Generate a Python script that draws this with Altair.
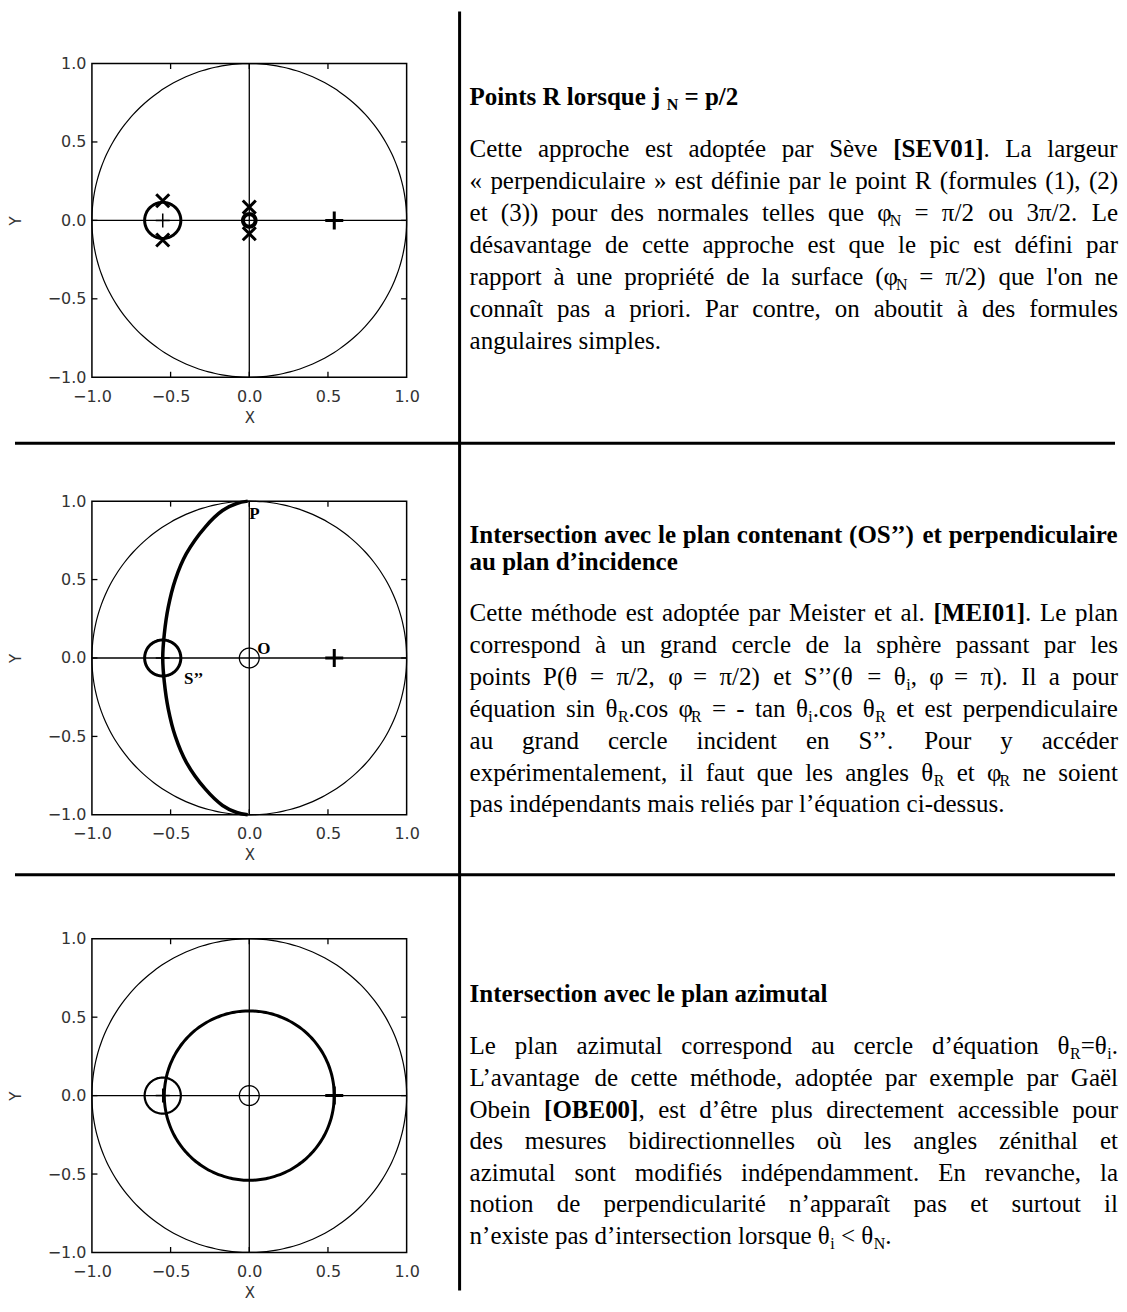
import math
import re
import pandas as pd
import altair as alt

# ---------------- data ----------------
TICK_VALUES = [-1.0, -0.5, 0.0, 0.5, 1.0]
INNER_TICKS = [-0.5, 0.0, 0.5]
TICK_LEN = 0.035

# circles per panel: centre x, centre y, radius, line width
P1_CX = [0.0, -0.55, 0.0]
P1_CY = [0.0, 0.0, 0.0]
P1_R = [1.0, 0.115, 0.04]
P1_W = [1.2, 3.0, 4.0]

P2_CX = [0.0, -0.55, 0.0]
P2_CY = [0.0, 0.0, 0.0]
P2_R = [1.0, 0.115, 0.063]
P2_W = [1.2, 3.0, 1.3]

P3_CX = [0.0, 0.0, -0.55, 0.0]
P3_CY = [0.0, 0.0, 0.0, 0.0]
P3_R = [1.0, 0.54, 0.115, 0.063]
P3_W = [1.2, 3.0, 2.2, 1.3]

# great-circle arc (panel 2)
ARC_X = [-0.01, -0.08, -0.17, -0.28, -0.40, -0.47, -0.515, -0.54, -0.55,
         -0.54, -0.515, -0.47, -0.40, -0.28, -0.17, -0.08, -0.01]
ARC_Y = [1.0, 0.985, 0.94, 0.835, 0.665, 0.5, 0.324, 0.153, 0.0,
         -0.153, -0.324, -0.5, -0.665, -0.835, -0.94, -0.985, -1.0]

# markers
THICK_PLUS_X = [0.54]
THICK_PLUS_Y = [0.0]
THIN_PLUS_X = [-0.55]
THIN_PLUS_Y = [0.0]
P1_XMARK_X = [-0.55, -0.55, 0.0, 0.0]
P1_XMARK_Y = [0.125, -0.125, 0.085, -0.085]

# point labels in panel 2
P2_LABELS = ["P", "O", "S’’"]
P2_LABEL_X = [0.0, 0.05, -0.415]
P2_LABEL_Y = [0.915, 0.06, -0.135]

# text blocks: (markup, justified, default style)
TEXT1 = [
    ("Points R lorsque j {S:N} = p/2", False, "b"),
    ("Cette approche est adoptée par Sève  {b:[SEV01]}. La largeur", True, "n"),
    ("« perpendiculaire » est définie par le point R (formules (1), (2)", True, "n"),
    ("et (3)) pour des normales telles que  φ{s:N} = π/2  ou  3π/2. Le", True, "n"),
    ("désavantage de cette approche est que le pic est défini par", True, "n"),
    ("rapport à une propriété de la surface (φ{s:N} = π/2) que l'on ne", True, "n"),
    ("connaît pas a priori. Par contre, on aboutit à des formules", True, "n"),
    ("angulaires simples.", False, "n"),
]
BASE1 = [42, 94, 126, 158, 190, 222, 254, 286]

TEXT2 = [
    ("Intersection avec le plan contenant (OS’’) et perpendiculaire", True, "b"),
    ("au plan d’incidence", False, "b"),
    ("Cette méthode est adoptée par Meister et al. {b:[MEI01]}. Le plan", True, "n"),
    ("correspond à un grand cercle de la sphère passant par les", True, "n"),
    ("points P(θ = π/2, φ = π/2) et S’’(θ = θ{s:i}, φ = π). Il a pour", True, "n"),
    ("équation sin θ{s:R}.cos φ{s:R} = - tan θ{s:i}.cos θ{s:R} et est perpendiculaire", True, "n"),
    ("au grand cercle incident en S’’. Pour y accéder", True, "n"),
    ("expérimentalement, il faut que les angles θ{s:R} et φ{s:R} ne soient", True, "n"),
    ("pas indépendants mais reliés par l’équation ci-dessus.", False, "n"),
]
BASE2 = [42, 69, 120, 152, 184, 216, 248, 280, 311]

TEXT3 = [
    ("Intersection avec le plan azimutal", False, "b"),
    ("Le plan azimutal correspond au cercle d’équation  θ{s:R}=θ{s:i}.", True, "n"),
    ("L’avantage de cette méthode, adoptée par exemple par Gaël", True, "n"),
    ("Obein {b:[OBE00]}, est d’être plus directement accessible pour", True, "n"),
    ("des mesures bidirectionnelles où les angles zénithal et", True, "n"),
    ("azimutal sont modifiés indépendamment. En revanche, la", True, "n"),
    ("notion de perpendicularité n’apparaît pas et surtout il", True, "n"),
    ("n’existe pas d’intersection lorsque θ{s:i} < θ{s:N}.", False, "n"),
]
BASE3 = [63, 115, 147, 179, 210, 242, 274, 306]

# ---------------- layout constants ----------------
W, H = 315, 314
TEXT_X0, TEXT_W = 378, 649
FS, SUB_FS = 25, 16
SERIF = "Liberation Serif"
SANS = "DejaVu Sans"

# Times / Liberation Serif advance widths (1/1000 em)
REG, BOLD = {}, {}
def _set(t, chars, w):
    for c in chars:
        t[c] = w
_set(REG, " ,.", 250); _set(REG, "ijlt:;/îï", 278); _set(REG, "fr()[]-’I", 333)
_set(REG, "sJ", 389); _set(REG, "aceézèêàâëç", 444)
_set(REG, "bdghknopquvxyôùû0123456789«»θφ", 500); _set(REG, "FPS", 556)
_set(REG, "=<", 564); _set(REG, "ELTZ", 611); _set(REG, "BCR", 667)
_set(REG, "ADGHKNOQUVXYw", 722); _set(REG, "m", 778); _set(REG, "M", 889)
_set(REG, "W", 944); REG["π"] = 550; REG["'"] = 180
_set(BOLD, " ,.", 250); _set(BOLD, "il:", 278); _set(BOLD, "fjt()[]-’", 333)
_set(BOLD, "sI", 389); _set(BOLD, "cerzé", 444); _set(BOLD, "agvxyJ0123456789", 500)
_set(BOLD, "bdhknpquS", 556); _set(BOLD, "=", 570); _set(BOLD, "FP", 611)
_set(BOLD, "BELTZ", 667); _set(BOLD, "ACDNRUVXYw", 722); _set(BOLD, "GHKOQ", 778)
_set(BOLD, "m", 833); _set(BOLD, "M", 944); _set(BOLD, "W", 1000)

TOK = re.compile(r"\{([bsS]):([^}]*)\}")

def parse(markup, default):
    segs, pos = [], 0
    for m in TOK.finditer(markup):
        if m.start() > pos:
            segs.append((markup[pos:m.start()], default))
        segs.append((m.group(2), m.group(1)))
        pos = m.end()
    if pos < len(markup):
        segs.append((markup[pos:], default))
    return segs

def seg_width(text, st):
    table = BOLD if st in ("b", "S") else REG
    size = SUB_FS if st in ("s", "S") else FS
    return sum(table.get(c, 500) for c in text) * size / 1000.0

def split_words(segs):
    words, cur = [], []
    for text, st in segs:
        parts = text.split(" ")
        for i, p in enumerate(parts):
            if i > 0 and cur:
                words.append(cur)
                cur = []
            if p:
                cur.append((p, st))
    if cur:
        words.append(cur)
    return words

def layout(lines, bases):
    rows = []
    for (markup, justify, default), yb in zip(lines, bases):
        words = split_words(parse(markup, default))
        widths = [sum(seg_width(t, s) for t, s in w) for w in words]
        if justify and len(words) > 1:
            gap = (TEXT_W - sum(widths)) / (len(words) - 1)
        else:
            gap = 0.25 * FS
        x = TEXT_X0
        for w, ww in zip(words, widths):
            xs = x
            for t, s in w:
                rows.append(dict(px=xs, py=yb, text=t, style=s))
                xs += seg_width(t, s)
            x += ww + gap
    return pd.DataFrame(rows)

# ---------------- chart pieces ----------------
SX = alt.Scale(domain=[-1, 1], nice=False, zero=False)
SY = alt.Scale(domain=[-1, 1], nice=False, zero=False)
AX = alt.Axis(values=TICK_VALUES, format=".1f", grid=False, ticks=False, tickSize=0,
              domain=False, labelFont=SANS, labelFontSize=16, labelColor="#333",
              labelPadding=11, labelFlush=False, title="X", titleFont=SANS,
              titleFontSize=15, titleFontWeight="normal", titleColor="#333",
              titleX=157.5, titleY=40, titleAlign="center", titleBaseline="middle")
AY = alt.Axis(values=TICK_VALUES, format=".1f", grid=False, ticks=False, tickSize=0,
              domain=False, labelFont=SANS, labelFontSize=16, labelColor="#333",
              labelPadding=6, labelFlush=False, title="Y", titleFont=SANS,
              titleFontSize=15, titleFontWeight="normal", titleColor="#333",
              titleX=-76, titleY=157, titleAngle=270, titleAlign="center",
              titleBaseline="middle")

def X(field="x"):
    return alt.X(f"{field}:Q", scale=SX, axis=AX)

def Y(field="y"):
    return alt.Y(f"{field}:Q", scale=SY, axis=AY)

PLUS = "M-1,0L1,0M0,-1L0,1"
XSHAPE = "M-1,-1L1,1M-1,1L1,-1"

def line_layer(cxs, cys, rs, ws, arc=False):
    rows = []
    n = 144
    for k, (cx, cy, r, w) in enumerate(zip(cxs, cys, rs, ws)):
        for i in range(n + 1):
            t = 2 * math.pi * i / n
            rows.append(dict(id=f"c{k}", order=i, x=cx + r * math.cos(t),
                             y=cy + r * math.sin(t), w=w))
    if arc:
        for i, (ax, ay) in enumerate(zip(ARC_X, ARC_Y)):
            rows.append(dict(id="arc", order=i, x=ax, y=ay, w=3.5))
    return alt.Chart(pd.DataFrame(rows)).mark_line(
        color="black", interpolate="catmull-rom").encode(
        x=X(), y=Y(), detail="id:N", order="order:Q",
        strokeWidth=alt.StrokeWidth("w:Q", scale=None))

def rules_layer():
    rows = [dict(x=-1.0, y=0.0, x2=1.0, y2=0.0), dict(x=0.0, y=-1.0, x2=0.0, y2=1.0)]
    for t in INNER_TICKS:
        rows += [dict(x=t, y=-1.0, x2=t, y2=-1.0 + TICK_LEN),
                 dict(x=t, y=1.0, x2=t, y2=1.0 - TICK_LEN),
                 dict(x=-1.0, y=t, x2=-1.0 + TICK_LEN, y2=t),
                 dict(x=1.0, y=t, x2=1.0 - TICK_LEN, y2=t)]
    return alt.Chart(pd.DataFrame(rows)).mark_rule(color="black", strokeWidth=1.3).encode(
        x=X(), y=Y(), x2="x2:Q", y2="y2:Q")

def marker_layer(xs, ys, shape, size, sw):
    return alt.Chart(pd.DataFrame(dict(x=xs, y=ys))).mark_point(
        shape=shape, size=size, strokeWidth=sw, color="black", filled=False,
        opacity=1).encode(x=X(), y=Y())

STYLES = {"n": (FS, "normal", 0), "b": (FS, "bold", 0),
          "s": (SUB_FS, "normal", 5), "S": (SUB_FS, "bold", 5)}

def text_layers(df):
    out = []
    for st, (size, weight, dy) in STYLES.items():
        sub = df[df["style"] == st]
        if len(sub) == 0:
            continue
        out.append(alt.Chart(sub).mark_text(
            align="left", baseline="alphabetic", font=SERIF, fontSize=size,
            fontWeight=weight, dy=dy, color="black").encode(
            x=alt.X("px:Q", scale=None, axis=None),
            y=alt.Y("py:Q", scale=None, axis=None),
            text="text:N"))
    return out

ONE = pd.DataFrame({"a": [0]})

def hsep(yrel):
    return alt.Chart(ONE).mark_rule(color="black", strokeWidth=3).encode(
        x=alt.value(-77), x2=alt.value(1024), y=alt.value(yrel))

def vsep():
    return alt.Chart(ONE).mark_rule(color="black", strokeWidth=3).encode(
        x=alt.value(368), y=alt.value(-52), y2=alt.value(1228))

# ---------------- rows ----------------
row1 = alt.layer(
    line_layer(P1_CX, P1_CY, P1_R, P1_W),
    rules_layer(),
    marker_layer(THIN_PLUS_X, THIN_PLUS_Y, PLUS, 196, 1.5),
    marker_layer(THICK_PLUS_X, THICK_PLUS_Y, PLUS, 324, 3),
    marker_layer(P1_XMARK_X, P1_XMARK_Y, XSHAPE, 170, 3),
    *text_layers(layout(TEXT1, BASE1)),
    vsep(),
).properties(width=W, height=H)

labels2 = alt.Chart(pd.DataFrame(dict(x=P2_LABEL_X, y=P2_LABEL_Y, t=P2_LABELS))).mark_text(
    align="left", baseline="middle", font=SERIF, fontSize=17, fontWeight="bold",
    color="black").encode(x=X(), y=Y(), text="t:N")

row2 = alt.layer(
    line_layer(P2_CX, P2_CY, P2_R, P2_W, arc=True),
    rules_layer(),
    marker_layer(THIN_PLUS_X, THIN_PLUS_Y, PLUS, 196, 1.5),
    marker_layer(THICK_PLUS_X, THICK_PLUS_Y, PLUS, 324, 3),
    labels2,
    *text_layers(layout(TEXT2, BASE2)),
    hsep(-58),
).properties(width=W, height=H)

row3 = alt.layer(
    line_layer(P3_CX, P3_CY, P3_R, P3_W),
    rules_layer(),
    marker_layer(THIN_PLUS_X, THIN_PLUS_Y, PLUS, 196, 1.5),
    marker_layer(THICK_PLUS_X, THICK_PLUS_Y, PLUS, 324, 3),
    *text_layers(layout(TEXT3, BASE3)),
    hsep(-64),
).properties(width=W, height=H)

chart = alt.vconcat(row1, row2, row3, spacing=124, bounds="flush").properties(
    padding=0, background="white"
).configure_view(stroke="black", strokeWidth=1.5)

chart.save("out.html", embed_options={"renderer": "svg", "actions": False})
